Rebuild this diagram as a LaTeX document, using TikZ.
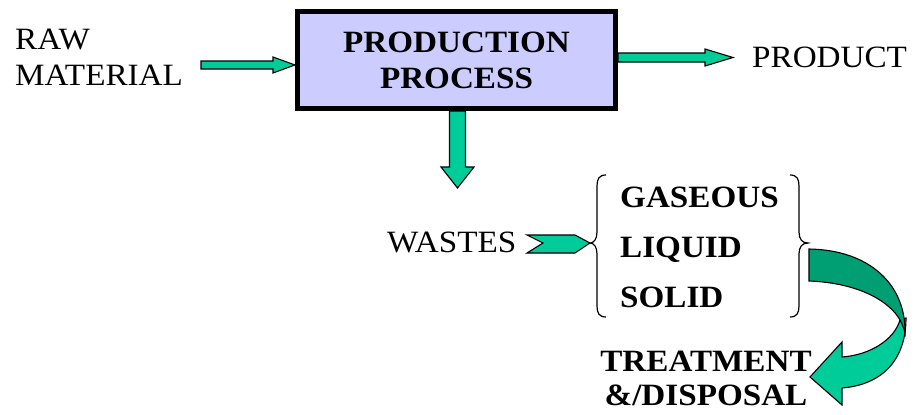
\documentclass[tikz,border=0pt]{standalone}
\usepackage{fontspec}
\setmainfont{Liberation Serif}[FakeStretch=1.07]
\usetikzlibrary{calc}
\definecolor{flowgreen}{RGB}{0,204,153}
\definecolor{flowdark}{RGB}{0,158,115}
\definecolor{boxlav}{RGB}{204,204,255}
\begin{document}
\begin{tikzpicture}[x=1pt,y=-1pt,
  lbl/.style={font=\fontsize{31}{36}\selectfont, inner sep=0pt, align=left},
  blbl/.style={font=\fontsize{31}{34}\selectfont\bfseries, inner sep=0pt},
  procbox/.style={draw=black, line width=5pt, fill=boxlav, minimum width=318pt,
    minimum height=97pt, inner sep=0pt, align=center,
    font=\fontsize{31}{36}\selectfont\bfseries},
  blockarrow/.style={draw=black, line width=1.1pt, fill=flowgreen, line join=miter},
  bracepath/.style={draw=black, line width=1.2pt}]
\useasboundingbox (0,0) rectangle (922,415);

% process box and texts
\node[procbox] (proc) at (456.5,60) {PRODUCTION\\PROCESS};
\node[lbl, anchor=west] (raw) at (15,57) {RAW\\MATERIAL};
\node[lbl, anchor=base west] (product) at (752,67) {PRODUCT};
\node[lbl, anchor=base west] (wastes) at (387,252) {WASTES};
\node[blbl, anchor=base west] (gas) at (620,207) {GASEOUS};
\node[blbl, anchor=base west] (liq) at (620,257) {LIQUID};
\node[blbl, anchor=base west] (sol) at (620,307) {SOLID};
\node[blbl, align=center] (treat) at (706,378) {TREATMENT\\\&/DISPOSAL};

% raw material -> process
\coordinate (rawS) at (201,65);
\coordinate (rawE) at (proc.west |- rawS);
\draw[blockarrow] ($(rawS)+(0,-4)$) -- ($(rawE)+(-22,-4)$) -- ($(rawE)+(-22,-8)$)
  -- (rawE) -- ($(rawE)+(-22,8)$) -- ($(rawE)+(-22,4)$) -- ($(rawS)+(0,4)$) -- cycle;

% process -> product
\coordinate (prS) at (proc.east |- 0,57.5);
\coordinate (prE) at (733,57.5);
\draw[blockarrow] ($(prS)+(0,-4.5)$) -- ($(prE)+(-28,-4.5)$) -- ($(prE)+(-28,-8.5)$)
  -- (prE) -- ($(prE)+(-28,8.5)$) -- ($(prE)+(-28,4.5)$) -- ($(prS)+(0,4.5)$) -- cycle;

% process -> wastes
\coordinate (dnS) at (proc.south -| 457.5,0);
\coordinate (dnE) at (457.5,188);
\draw[blockarrow] ($(dnS)+(-8,0)$) -- ($(dnE)+(-8,-21)$) -- ($(dnE)+(-16.5,-21)$)
  -- (dnE) -- ($(dnE)+(16.5,-21)$) -- ($(dnE)+(8,-21)$) -- ($(dnS)+(8,0)$) -- cycle;

% chevron from wastes to the brace
\coordinate (chT) at (590,243);
\draw[blockarrow] (527,235) -- (575,235) -- (chT) -- (575,253) -- (527,253)
  -- (543,243) -- cycle;

% left brace
\draw[bracepath] (606,175) .. controls (599,175) and (597,179) .. (597,186)
  -- (597,232) .. controls (597,239) and (594,243) .. (chT)
  .. controls (594,243) and (597,247) .. (597,254)
  -- (597,306) .. controls (597,313) and (599,317) .. (606,317);
% right brace
\coordinate (brT) at (808,243);
\draw[bracepath] (790,175) .. controls (797,175) and (799,179) .. (799,186)
  -- (799,232) .. controls (799,239) and (802,243) .. (brT)
  .. controls (802,243) and (799,247) .. (799,254)
  -- (799,306) .. controls (799,313) and (797,317) .. (790,317);

% curved arrow towards treatment: front (light) part, then the back (dark) part
\draw[blockarrow] (906,318) .. controls (906,362) and (880,385) .. (842,388)
  -- (842,405) -- (810,377) -- (842,342) -- (842,357)
  .. controls (870,355) and (894,340) .. (900,320) -- cycle;
\draw[blockarrow, fill=flowdark] (809,249) .. controls (870,250) and (906,285) .. (905,333)
  .. controls (903,325) and (901,322) .. (900,320)
  .. controls (890,302) and (860,283) .. (809,281) -- cycle;
\end{tikzpicture}
\end{document}
